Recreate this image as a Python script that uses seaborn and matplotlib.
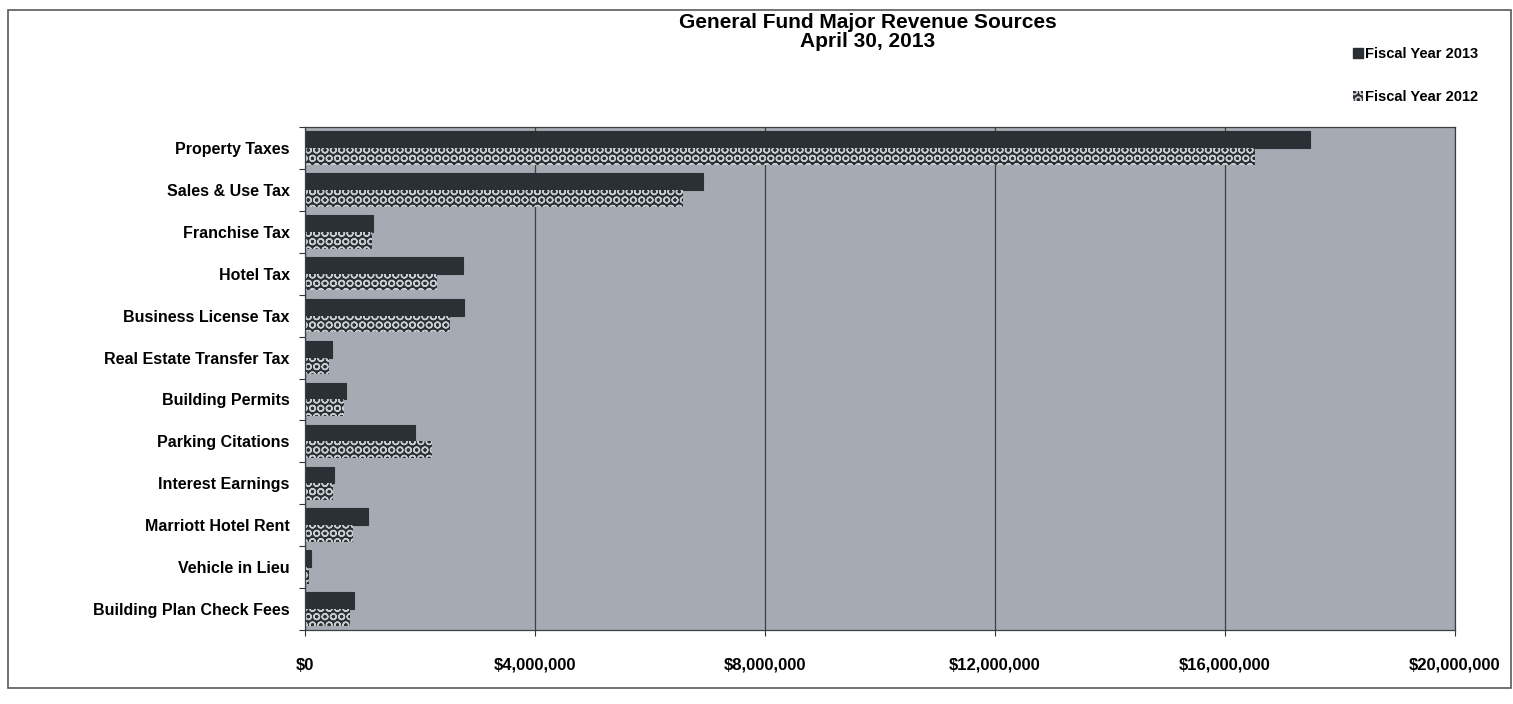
import matplotlib
matplotlib.use("Agg")
import matplotlib.pyplot as plt
import seaborn as sns
import pandas as pd
import numpy as np
from matplotlib.patches import Patch, Rectangle
from matplotlib.ticker import FuncFormatter

# Values (dollars)
categories = [
    "Property Taxes", "Sales & Use Tax", "Franchise Tax", "Hotel Tax",
    "Business License Tax", "Real Estate Transfer Tax", "Building Permits",
    "Parking Citations", "Interest Earnings", "Marriott Hotel Rent",
    "Vehicle in Lieu", "Building Plan Check Fees",
]
fy2013 = [17480000, 6920000, 1180000, 2750000, 2770000, 470000,
          710000, 1910000, 500000, 1100000, 100000, 850000]
fy2012 = [16520000, 6570000, 1170000, 2300000, 2520000, 420000,
          680000, 2210000, 490000, 830000, 70000, 780000]
series = ["Fiscal Year 2013", "Fiscal Year 2012"]

bar_dark = "#2b3035"
dot_light = "#c9ccd1"
panel_bg = "#a5aab3"

sns.set_theme(style="white")
plt.rcParams["font.family"] = ["Liberation Sans", "DejaVu Sans"]
plt.rcParams["text.color"] = "black"
plt.rcParams["hatch.linewidth"] = 1.0

df = pd.DataFrame({
    "Source": categories * 2,
    "Revenue": fy2013 + fy2012,
    "Year": [series[0]] * len(categories) + [series[1]] * len(categories),
})

fig = plt.figure(figsize=(15.13, 7.04), dpi=100)
ax = fig.add_axes([305 / 1513, 1 - 630 / 704, 1150 / 1513, 503 / 704])
ax.set_facecolor(panel_bg)

sns.barplot(data=df, x="Revenue", y="Source", hue="Year", orient="h",
            palette=[bar_dark, bar_dark], width=0.8, saturation=1,
            legend=False, ax=ax)

for bar in ax.containers[0]:
    bar.set_edgecolor(bar_dark)
    bar.set_linewidth(0.8)
# 2012 bars get the light dotted pattern
for bar in ax.containers[1]:
    bar.set_hatch("OO")
    bar.set_edgecolor(dot_light)
    bar.set_linewidth(0)

ax.set_xlim(0, 20000000)
ax.set_xticks(np.arange(0, 20000001, 4000000))
ax.xaxis.set_major_formatter(FuncFormatter(lambda v, _: f"${v:,.0f}"))
ax.set_xlabel("")
ax.set_ylabel("")
ax.xaxis.grid(True, color="#3c4045", linewidth=0.9)
ax.yaxis.grid(False)
ax.set_axisbelow(True)

ax.set_yticks(np.arange(-0.5, len(categories), 1), minor=True)
ax.tick_params(axis="y", which="major", length=0, pad=11,
               labelsize=11.5, labelcolor="black")
ax.tick_params(axis="y", which="minor", length=4, width=0.8,
               color="#333333", left=True)
ax.tick_params(axis="x", which="major", length=4, width=0.8,
               color="#333333", bottom=True, pad=16,
               labelsize=12, labelcolor="black")
for lbl in ax.get_xticklabels() + ax.get_yticklabels():
    lbl.set_fontweight("bold")

for side, sp in ax.spines.items():
    sp.set_color("#3c4045")
    sp.set_linewidth(0.9)

fig.text(868 / 1513, 1 - 32 / 704,
         "General Fund Major Revenue Sources\nApril 30, 2013",
         ha="center", va="center", fontsize=15, fontweight="bold",
         color="black", linespacing=0.95)

handles = [
    Patch(facecolor=bar_dark, edgecolor=bar_dark),
    Patch(facecolor=bar_dark, edgecolor=dot_light, hatch="OO", linewidth=0),
]
fig.legend(handles, series, loc="upper left",
           bbox_to_anchor=(1340 / 1513, 1 - 34 / 704), frameon=False,
           handlelength=0.65, handleheight=0.65, handletextpad=0.15,
           labelspacing=2.0, labelcolor="black",
           prop={"weight": "bold", "size": 10.5})

# outer frame of the chart object
fig.add_artist(Rectangle((8 / 1513, 1 - 688 / 704), 1503 / 1513, 678 / 704,
                         transform=fig.transFigure, fill=False,
                         edgecolor="#5a5a5a", linewidth=1.2))

fig.savefig("out.png", dpi=100)
